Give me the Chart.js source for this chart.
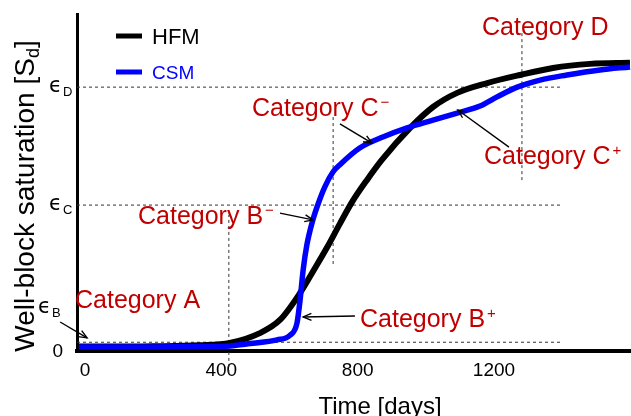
<!DOCTYPE html>
<html lang="en">
<head>
  <meta charset="UTF-8">
  <title>Well-block saturation</title>
  <script src="https://cdn.jsdelivr.net/npm/chart.js"></script>
  <style>
    body {
      margin: 0;
      background: #fff;
    }
    #wrap {
      width: 631px;
      height: 416px;
    }
  </style>
</head>
<body>

  <div id="wrap"><canvas id="satChart" width="631" height="416"></canvas></div>

  <script>
    // time [days] and saturation (fraction of axis height)
    const hfmDays = [-18, 100, 200, 337, 425, 513, 572, 631, 669, 710, 748, 786, 827, 871, 954, 1021, 1092, 1180, 1276, 1373, 1482, 1599];
    const hfmSat  = [0.013, 0.013, 0.014, 0.017, 0.024, 0.053, 0.092, 0.172, 0.236, 0.307, 0.378, 0.446, 0.507, 0.567, 0.662, 0.724, 0.766, 0.795, 0.819, 0.840, 0.852, 0.855];

    const csmDays = [-18, 100, 200, 337, 425, 484, 563, 602, 622, 631, 640, 651, 666, 681, 704, 728, 748, 807, 874, 945, 1021, 1092, 1159, 1209, 1268, 1335, 1414, 1511, 1599];
    const csmSat  = [0.012, 0.012, 0.012, 0.013, 0.015, 0.022, 0.033, 0.047, 0.083, 0.151, 0.240, 0.315, 0.380, 0.428, 0.488, 0.532, 0.553, 0.603, 0.635, 0.662, 0.685, 0.706, 0.727, 0.754, 0.783, 0.804, 0.819, 0.834, 0.843];

    const xTicks = [0, 400, 800, 1200];

    // thresholds on the y axis
    const epsB = 0.026;
    const epsC = 0.433;
    const epsD = 0.783;

    // dashed guide lines: [x1, y1, x2, y2] in data units
    const guideLines = [
      [-23.5, epsB, 1394, epsB],
      [-23.5, epsC, 1394, epsC],
      [-23.5, epsD, 1394, epsD],
      [422, -0.065, 422, 0.404],
      [728, 0.258, 728, 0.700],
      [1282, 0.507, 1282, 0.944]
    ];

    // arrows in data units: [fromX, fromY, toX, toY]
    const arrows = [
      [-73, 0.086, 6, 0.039],
      [572, 0.409, 669, 0.389],
      [792, 0.104, 640, 0.101],
      [748, 0.674, 842, 0.617],
      [1244, 0.605, 1094, 0.715]
    ];

    const RED = '#c00000';
    const notes = [
      { text: 'Category A', sup: '', x: 75, y: 299 },
      { text: 'Category D', sup: '', x: 482, y: 26 },
      { text: 'Category C', sup: '\u2212', x: 252, y: 107 },
      { text: 'Category C', sup: '+', x: 484, y: 155 },
      { text: 'Category B', sup: '\u2212', x: 138, y: 215 },
      { text: 'Category B', sup: '+', x: 360, y: 318 }
    ];

    function drawArrow(ctx, x1, y1, x2, y2) {
      const a = Math.atan2(y2 - y1, x2 - x1);
      const h = 9;
      ctx.beginPath();
      ctx.moveTo(x1, y1);
      ctx.lineTo(x2, y2);
      ctx.stroke();
      ctx.beginPath();
      ctx.moveTo(x2 - h * Math.cos(a - 0.4), y2 - h * Math.sin(a - 0.4));
      ctx.lineTo(x2, y2);
      ctx.lineTo(x2 - h * Math.cos(a + 0.4), y2 - h * Math.sin(a + 0.4));
      ctx.stroke();
    }

    const extras = {
      id: 'extras',
      afterDatasetsDraw(chart) {
        const ctx = chart.ctx;
        const xs = chart.scales.x;
        const ys = chart.scales.y;
        ctx.save();

        // y tick labels
        ctx.fillStyle = '#000';
        ctx.textBaseline = 'alphabetic';
        ctx.textAlign = 'right';
        ctx.font = '19px "Liberation Sans", Arial, sans-serif';
        ctx.fillText('0', 63, ys.getPixelForValue(0) + 6);
        ctx.textAlign = 'left';
        const epsLabels = [['D', epsD, 49, 0], ['C', epsC, 49, 0], ['B', epsB, 38, -34]];
        epsLabels.forEach(([sub, v, lx, dy]) => {
          const py = ys.getPixelForValue(v) + dy;
          ctx.font = '21px "DejaVu Sans", sans-serif';
          ctx.fillText('\u03f5', lx, py + 5);
          const w = ctx.measureText('\u03f5').width;
          ctx.font = '13px "Liberation Sans", Arial, sans-serif';
          ctx.fillText(sub, lx + w + 1, py + 9);
        });

        // axis titles
        ctx.font = '24px "Liberation Sans", Arial, sans-serif';
        ctx.textAlign = 'center';
        ctx.fillText('Time [days]', 380, 414);

        ctx.save();
        ctx.translate(34, 196);
        ctx.rotate(-Math.PI / 2);
        ctx.textAlign = 'left';
        const big = '28px "Liberation Sans", Arial, sans-serif';
        const small = '18px "Liberation Sans", Arial, sans-serif';
        ctx.font = big;
        const t1 = 'Well-block saturation [S';
        const w1 = ctx.measureText(t1).width;
        const w3 = ctx.measureText(']').width;
        ctx.font = small;
        const w2 = ctx.measureText('d').width;
        let sx = -(w1 + w2 + w3) / 2;
        ctx.font = big;
        ctx.fillText(t1, sx, 0);
        ctx.font = small;
        ctx.fillText('d', sx + w1, 5);
        ctx.font = big;
        ctx.fillText(']', sx + w1 + w2, 0);
        ctx.restore();

        // legend
        const legendItems = [
          { ds: chart.data.datasets[0], y: 36, size: 22 },
          { ds: chart.data.datasets[1], y: 72, size: 19 }
        ];
        legendItems.forEach(item => {
          ctx.strokeStyle = item.ds.borderColor;
          ctx.lineWidth = 5;
          ctx.beginPath();
          ctx.moveTo(116, item.y);
          ctx.lineTo(142, item.y);
          ctx.stroke();
          ctx.fillStyle = item.ds.borderColor;
          ctx.textAlign = 'left';
          ctx.font = item.size + 'px "Liberation Sans", Arial, sans-serif';
          ctx.fillText(item.ds.label, 152, item.y + item.size * 0.358);
        });

        // arrows
        ctx.strokeStyle = '#000';
        ctx.lineWidth = 1.4;
        arrows.forEach(([x1, y1, x2, y2]) => {
          drawArrow(ctx,
            xs.getPixelForValue(x1), ys.getPixelForValue(y1),
            xs.getPixelForValue(x2), ys.getPixelForValue(y2));
        });

        // red category labels
        ctx.fillStyle = RED;
        ctx.textAlign = 'left';
        notes.forEach(n => {
          ctx.font = '25px "Liberation Sans", Arial, sans-serif';
          ctx.fillText(n.text, n.x, n.y + 9);
          if (n.sup) {
            const w = ctx.measureText(n.text).width;
            ctx.font = '15px "Liberation Sans", Arial, sans-serif';
            ctx.fillText(n.sup, n.x + w + 2, n.y);
          }
        });

        ctx.restore();
      }
    };

    const guideSets = guideLines.map(g => ({
      label: '',
      data: [{ x: g[0], y: g[1] }, { x: g[2], y: g[3] }],
      borderColor: '#333',
      borderWidth: 1,
      borderDash: [3, 3],
      pointRadius: 0,
      clip: false,
      order: 3
    }));

    const ctx = document.getElementById('satChart').getContext('2d');
    const chart = new Chart(ctx, {
      type: 'line',
      data: {
        datasets: [
          {
            label: 'HFM',
            data: hfmDays.map((d, i) => ({ x: d, y: hfmSat[i] })),
            borderColor: '#000000',
            borderWidth: 6,
            pointRadius: 0,
            cubicInterpolationMode: 'monotone',
            order: 2
          },
          {
            label: 'CSM',
            data: csmDays.map((d, i) => ({ x: d, y: csmSat[i] })),
            borderColor: '#0000ff',
            borderWidth: 5.5,
            pointRadius: 0,
            cubicInterpolationMode: 'monotone',
            order: 1
          },
          ...guideSets
        ]
      },
      options: {
        responsive: false,
        animation: false,
        layout: { padding: { top: 14, right: 0, left: 0, bottom: 0 } },
        plugins: {
          legend: { display: false },
          tooltip: { enabled: false }
        },
        scales: {
          x: {
            type: 'linear',
            min: -23.5,
            max: 1602,
            afterFit: s => { s.height = 65; },
            afterBuildTicks: s => { s.ticks = xTicks.map(v => ({ value: v })); },
            grid: { display: false, drawTicks: false },
            border: { display: true, color: '#000', width: 4 },
            ticks: {
              padding: 8,
              color: '#000',
              maxRotation: 0,
              autoSkip: false,
              font: { family: 'Liberation Sans', size: 19 },
              callback: v => String(v)
            }
          },
          y: {
            min: 0,
            max: 1,
            afterFit: s => { s.width = 77; },
            ticks: { display: false },
            grid: { display: false, drawTicks: false },
            border: { display: true, color: '#000', width: 3 }
          }
        }
      },
      plugins: [extras]
    });
  </script>

</body>
</html>
